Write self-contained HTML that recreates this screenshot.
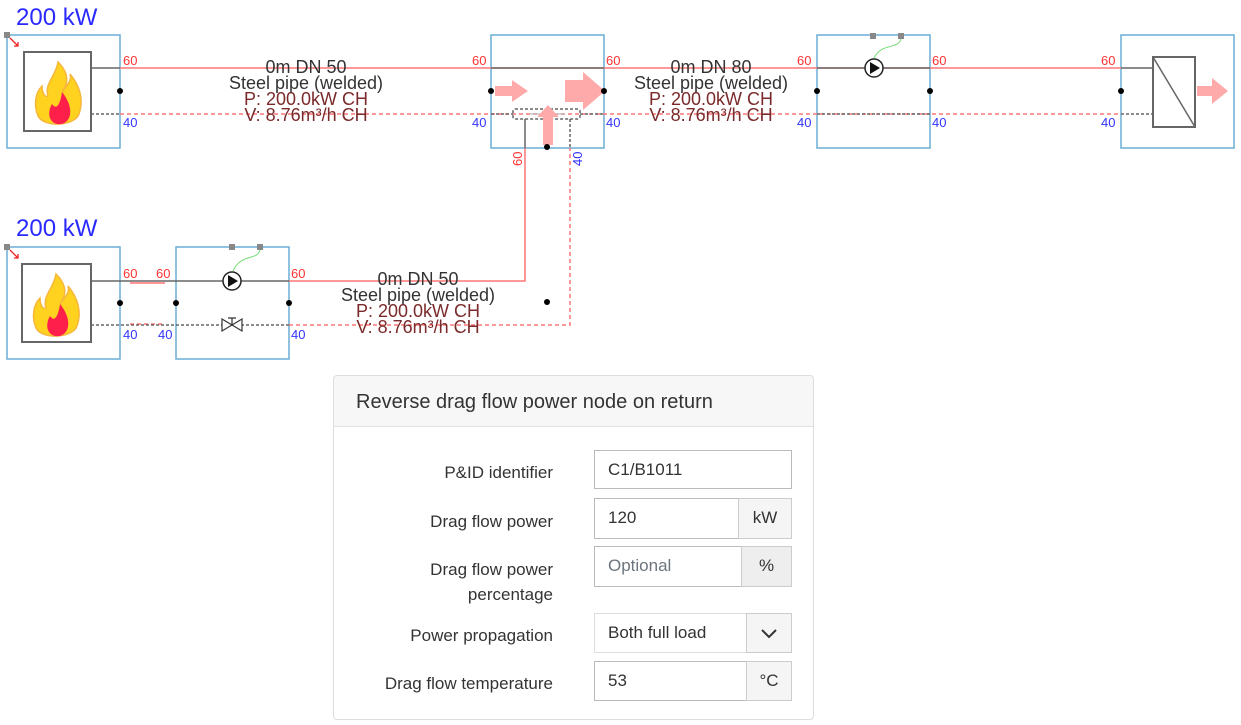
<!DOCTYPE html>
<html><head><style>
body{margin:0;width:1241px;height:725px;background:#fff;position:relative;overflow:hidden;font-family:"Liberation Sans",sans-serif;}
svg{position:absolute;left:0;top:0}
.panel{position:absolute;left:333px;top:375px;width:479px;height:343px;border:1px solid #ddd;border-radius:4px;background:#fff}
.hdr{height:50px;background:#f7f7f7;border-bottom:1px solid #e0e0e0;font-size:20px;color:#333;line-height:52px;padding-left:22px;border-radius:4px 4px 0 0}
.lbl{position:absolute;right:260px;text-align:right;font-size:17px;color:#333;line-height:25px}
.inp{position:absolute;left:260px;width:198px;height:39px;border:1px solid #bbb;box-sizing:border-box;font-size:17px;color:#333;line-height:37px;padding-left:13px;background:#fff}
.add{position:absolute;right:-1px;top:-1px;height:39px;border:1px solid #ccc;box-sizing:border-box;background:#f5f5f5;text-align:center;line-height:37px;color:#333}
</style></head><body>
<svg width="1241" height="725" font-family="Liberation Sans, sans-serif">
<text x="16" y="25" font-size="24" fill="#2a2aff">200 kW</text>
<text x="16" y="236" font-size="24" fill="#2a2aff">200 kW</text>
<g fill="none" stroke="#6aaed6" stroke-width="1.5">
<rect x="7" y="35" width="113" height="113"/><rect x="491" y="35" width="113" height="113"/>
<rect x="817" y="35" width="113" height="113"/><rect x="1121" y="35" width="113" height="113"/>
<rect x="7" y="247" width="113" height="112"/><rect x="176" y="247" width="113" height="112"/>
</g>
<g stroke="#f77" stroke-width="1.5" fill="none">
<line x1="120" y1="68" x2="1121" y2="68"/>
<line x1="120" y1="114" x2="1121" y2="114" stroke-dasharray="4,3"/>
<polyline points="289,281 525,281 525,148"/>
<polyline points="289,325 570,325 570,148" stroke-dasharray="4,3"/>
<line x1="130" y1="283" x2="165" y2="283"/>
<line x1="130" y1="324" x2="165" y2="324" stroke-dasharray="4,3"/>
</g>
<g stroke="#666" stroke-width="1.5" fill="none">
<rect x="24" y="52" width="67" height="79" stroke-width="2"/><rect x="22" y="264" width="69" height="78" stroke-width="2"/>
<line x1="91" y1="68" x2="120" y2="68"/><line x1="91" y1="114" x2="120" y2="114" stroke-dasharray="3,2"/>
<line x1="91" y1="281" x2="176" y2="281"/><line x1="91" y1="325" x2="176" y2="325" stroke-dasharray="3,2"/>
<line x1="491" y1="68" x2="604" y2="68"/>
<line x1="491" y1="114" x2="513" y2="114" stroke-dasharray="3,2"/><line x1="580" y1="114" x2="604" y2="114" stroke-dasharray="3,2"/>
<line x1="525" y1="119" x2="525" y2="148"/><line x1="570" y1="119" x2="570" y2="148" stroke-dasharray="3,2"/>
<line x1="817" y1="68" x2="930" y2="68"/><line x1="817" y1="114" x2="930" y2="114" stroke-dasharray="3,2"/>
<line x1="176" y1="281" x2="289" y2="281"/><line x1="176" y1="325" x2="289" y2="325" stroke-dasharray="3,2"/>
<line x1="1121" y1="68" x2="1153" y2="68"/><line x1="1121" y1="114" x2="1153" y2="114" stroke-dasharray="3,2"/>
<rect x="1153" y="57" width="42" height="70" stroke-width="2"/><line x1="1153" y1="57" x2="1195" y2="127"/>
<rect x="513" y="109" width="67" height="10" rx="2" stroke-dasharray="3,2"/>
<line x1="530" y1="114" x2="565" y2="114" stroke="#aaa" stroke-width="1"/>
</g>
<g id="fl"><path d="M58 62 C72 76 66 86 62 92 C68 84 72 80 70 74 C80 86 84 100 79 114 C75 126 44 128 38 116 C33 104 36 92 42 86 C42 94 46 98 48 96 C44 84 56 76 58 62Z" fill="#ffd21f" stroke="#f6b73c" stroke-width="1.5"/>
<path d="M62 92 C72 104 74 120 62 124 C50 126 46 114 52 104 C56 110 60 106 62 92Z" fill="#ff1f4b"/></g>
<use href="#fl" transform="translate(-2,212)"/>
<g fill="#ffaaaa">
<polygon points="495,86 512,86 512,80 528,91 512,102 512,96 495,96"/>
<polygon points="565,80 583,80 583,72 605,91 583,110 583,102 565,102"/>
<polygon points="543,145 543,117 537,117 548,105 559,117 553,117 553,145"/>
<polygon points="1197,86 1212,86 1212,78 1228,91 1212,104 1212,96 1197,96"/>
</g>
<g stroke="#222" stroke-width="1.5" fill="#fff">
<circle cx="874" cy="68" r="9"/><circle cx="232" cy="281" r="9"/></g>
<polygon points="870,62 870,74 880,68" fill="#111"/><polygon points="228,275 228,287 238,281" fill="#111"/>
<g fill="#888"><rect x="870" y="33" width="6" height="6"/><rect x="898" y="33" width="6" height="6"/>
<rect x="229" y="244" width="6" height="6"/><rect x="257" y="244" width="6" height="6"/>
<rect x="4" y="32" width="6" height="6"/><rect x="4" y="244" width="6" height="6"/></g>
<path d="M901 39 C898 50 882 42 874 58" stroke="#7d7" fill="none"/>
<path d="M260 250 C257 261 241 253 233 271" stroke="#7d7" fill="none"/>
<path d="M10 38 L18 46 M14 46 L18 46 L18 42" stroke="#e22" fill="none" stroke-width="1.3"/>
<path d="M10 250 L18 258 M14 258 L18 258 L18 254" stroke="#e22" fill="none" stroke-width="1.3"/>
<path d="M222 319 L242 331 L242 319 L222 331 Z M232 325 L232 318 M228 318 L236 318" stroke="#333" fill="#fff" stroke-width="1.2"/>
<g fill="#000"><circle cx="120" cy="91" r="3"/><circle cx="491" cy="91" r="3"/><circle cx="604" cy="91" r="3"/>
<circle cx="547" cy="147" r="3"/><circle cx="817" cy="91" r="3"/><circle cx="930" cy="91" r="3"/><circle cx="1121" cy="91" r="3"/>
<circle cx="120" cy="303" r="3"/><circle cx="176" cy="303" r="3"/><circle cx="289" cy="303" r="3"/><circle cx="547" cy="302" r="3"/></g>
<g font-size="13" fill="#f33"><text x="123" y="65">60</text><text x="472" y="65">60</text><text x="606" y="65">60</text>
<text x="797" y="65">60</text><text x="932" y="65">60</text><text x="1101" y="65">60</text>
<text x="123" y="278">60</text><text x="156" y="278">60</text><text x="291" y="278">60</text>
<text transform="translate(522,166) rotate(-90)">60</text></g>
<g font-size="13" fill="#33f"><text x="123" y="127">40</text><text x="472" y="127">40</text><text x="606" y="127">40</text>
<text x="797" y="127">40</text><text x="932" y="127">40</text><text x="1101" y="127">40</text>
<text x="123" y="339">40</text><text x="158" y="339">40</text><text x="291" y="339">40</text>
<text transform="translate(582,166) rotate(-90)">40</text></g>
<g font-size="18" text-anchor="middle">
<text x="306" y="73" fill="#333">0m DN 50</text><text x="306" y="89" fill="#333">Steel pipe (welded)</text>
<text x="306" y="105" fill="#7a2a2a">P: 200.0kW CH</text><text x="306" y="121" fill="#7a2a2a">V: 8.76m³/h CH</text>
<text x="711" y="73" fill="#333">0m DN 80</text><text x="711" y="89" fill="#333">Steel pipe (welded)</text>
<text x="711" y="105" fill="#7a2a2a">P: 200.0kW CH</text><text x="711" y="121" fill="#7a2a2a">V: 8.76m³/h CH</text>
<text x="418" y="285" fill="#333">0m DN 50</text><text x="418" y="301" fill="#333">Steel pipe (welded)</text>
<text x="418" y="317" fill="#7a2a2a">P: 200.0kW CH</text><text x="418" y="333" fill="#7a2a2a">V: 8.76m³/h CH</text>
</g>
</svg>
<div class="panel">
<div class="hdr">Reverse drag flow power node on return</div>
<div class="lbl" style="top:84px">P&amp;ID identifier</div>
<div class="inp" style="top:74px">C1/B1011</div>
<div class="lbl" style="top:133px">Drag flow power</div>
<div class="inp" style="top:122px;height:41px">120<div class="add" style="width:54px;height:41px">kW</div></div>
<div class="lbl" style="top:181px">Drag flow power<br>percentage</div>
<div class="inp" style="top:170px;height:41px;color:#6c757d">Optional<div class="add" style="width:51px;height:41px;background:#eee;color:#333">%</div></div>
<div class="lbl" style="top:247px">Power propagation</div>
<div class="inp" style="top:237px;height:40px;border-color:#ddd">Both full load<div class="add" style="width:46px;height:40px"><svg width="44" height="38" style="position:static"><path d="M15 16 L22 23 L29 16" stroke="#333" stroke-width="2" fill="none"/></svg></div></div>
<div class="lbl" style="top:295px">Drag flow temperature</div>
<div class="inp" style="top:285px;height:40px">53<div class="add" style="width:46px;height:40px">°C</div></div>
</div>
</body></html>
